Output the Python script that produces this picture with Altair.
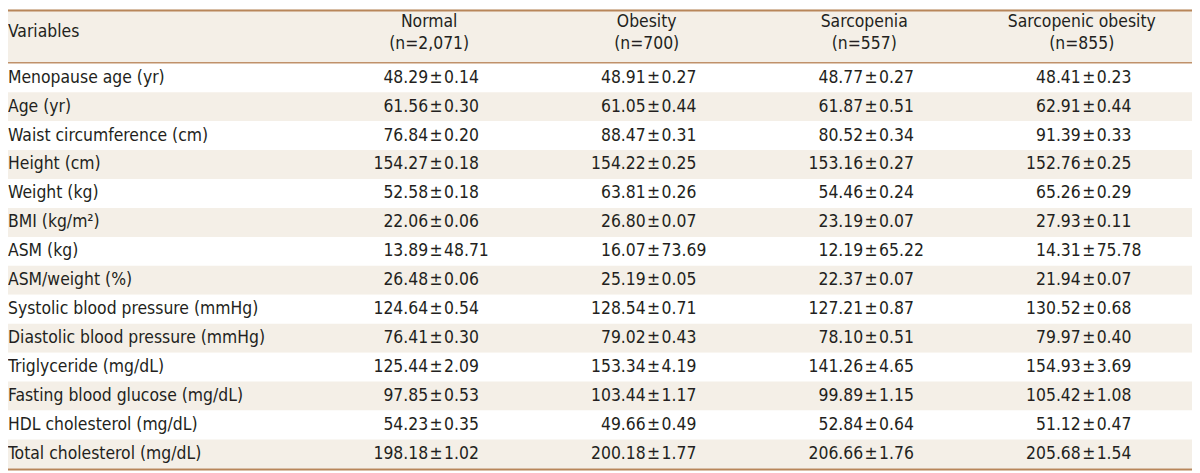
import altair as alt
import pandas as pd

variables = [
    "Menopause age (yr)", "Age (yr)", "Waist circumference (cm)", "Height (cm)",
    "Weight (kg)", "BMI (kg/m²)", "ASM (kg)", "ASM/weight (%)",
    "Systolic blood pressure (mmHg)", "Diastolic blood pressure (mmHg)",
    "Triglyceride (mg/dL)", "Fasting blood glucose (mg/dL)",
    "HDL cholesterol (mg/dL)", "Total cholesterol (mg/dL)",
]
groups = ["Normal", "Obesity", "Sarcopenia", "Sarcopenic obesity"]
group_n = ["(n=2,071)", "(n=700)", "(n=557)", "(n=855)"]

normal_mean = [48.29, 61.56, 76.84, 154.27, 52.58, 22.06, 13.89, 26.48, 124.64, 76.41, 125.44, 97.85, 54.23, 198.18]
normal_se = [0.14, 0.30, 0.20, 0.18, 0.18, 0.06, 48.71, 0.06, 0.54, 0.30, 2.09, 0.53, 0.35, 1.02]
obesity_mean = [48.91, 61.05, 88.47, 154.22, 63.81, 26.80, 16.07, 25.19, 128.54, 79.02, 153.34, 103.44, 49.66, 200.18]
obesity_se = [0.27, 0.44, 0.31, 0.25, 0.26, 0.07, 73.69, 0.05, 0.71, 0.43, 4.19, 1.17, 0.49, 1.77]
sarc_mean = [48.77, 61.87, 80.52, 153.16, 54.46, 23.19, 12.19, 22.37, 127.21, 78.10, 141.26, 99.89, 52.84, 206.66]
sarc_se = [0.27, 0.51, 0.34, 0.27, 0.24, 0.07, 65.22, 0.07, 0.87, 0.51, 4.65, 1.15, 0.64, 1.76]
so_mean = [48.41, 62.91, 91.39, 152.76, 65.26, 27.93, 14.31, 21.94, 130.52, 79.97, 154.93, 105.42, 51.12, 205.68]
so_se = [0.23, 0.44, 0.33, 0.25, 0.29, 0.11, 75.78, 0.07, 0.68, 0.40, 3.69, 1.08, 0.47, 1.54]

# ---- layout / style ----
W, H = 1192, 465
ROW_TOP, ROW_BOTTOM = 54, 462
FONT = "DejaVu Sans Condensed, Liberation Sans, Arial, sans-serif"
FS = 17.5
TXT = "#231f20"
BEIGE = "#f4efe7"
LINE = "#c0916a"
EDGE = "#b8865a"

means = [normal_mean, obesity_mean, sarc_mean, so_mean]
ses = [normal_se, obesity_se, sarc_se, so_se]

rows = pd.DataFrame({"var": variables, "stripe": [i % 2 for i in range(len(variables))]})
cells = []
for g, m, s in zip(groups, means, ses):
    for v, mv, sv in zip(variables, m, s):
        cells.append({"var": v, "group": g, "mean": f"{mv:.2f}", "se": f"{sv:.2f}"})
cells = pd.DataFrame(cells)
heads = pd.DataFrame({"group": groups, "n": group_n})
one = pd.DataFrame({"label": ["Variables"]})

yscale = alt.Scale(domain=variables, range=[ROW_TOP, ROW_BOTTOM], paddingInner=0, paddingOuter=0)
xscale = alt.Scale(domain=groups, range=[431, 1088], padding=0)
Y = alt.Y("var:N", scale=yscale, axis=None)
X = alt.X("group:N", scale=xscale, axis=None)

header_bg = alt.Chart(one).mark_rect(fill=BEIGE).encode(
    x=alt.value(0), x2=alt.value(W), y=alt.value(0), y2=alt.value(ROW_TOP))

stripes = alt.Chart(rows).mark_bar(size=29.15, orient="horizontal").encode(
    y=Y, x=alt.value(0), x2=alt.value(W),
    fill=alt.Fill("stripe:N", scale=alt.Scale(domain=[0, 1], range=["#ffffff", BEIGE]), legend=None),
)

top_line = alt.Chart(one).mark_rule(color=EDGE, strokeWidth=2).encode(
    x=alt.value(0), x2=alt.value(W), y=alt.value(1))
mid_line = alt.Chart(one).mark_rule(color=LINE, strokeWidth=1.5).encode(
    x=alt.value(0), x2=alt.value(W), y=alt.value(ROW_TOP - 0.5))
bot_line = alt.Chart(one).mark_rule(color=EDGE, strokeWidth=2).encode(
    x=alt.value(0), x2=alt.value(W), y=alt.value(ROW_BOTTOM + 1))

tbase = dict(font=FONT, fontSize=FS, color=TXT, baseline="middle")

var_head = alt.Chart(one).mark_text(align="left", **tbase).encode(
    x=alt.value(0), y=alt.value(23), text="label:N")
grp_head = alt.Chart(heads).mark_text(align="center", dx=-7, **tbase).encode(
    x=X, y=alt.value(13), text="group:N")
n_head = alt.Chart(heads).mark_text(align="center", dx=-7, **tbase).encode(
    x=X, y=alt.value(35), text="n:N")

var_text = alt.Chart(rows).mark_text(align="left", **tbase).encode(
    x=alt.value(0), y=Y, text="var:N")
mean_text = alt.Chart(cells).mark_text(align="right", dx=-8, **tbase).encode(
    x=X, y=Y, text="mean:N")
pm_text = alt.Chart(cells).mark_text(align="center", text="±", **tbase).encode(
    x=X, y=Y)
se_text = alt.Chart(cells).mark_text(align="left", dx=8, **tbase).encode(
    x=X, y=Y, text="se:N")

chart = alt.layer(
    header_bg, stripes, top_line, mid_line, bot_line,
    var_head, grp_head, n_head, var_text, mean_text, pm_text, se_text,
).properties(
    width=W, height=H, padding=0, autosize=alt.AutoSizeParams(type="none"),
    background="#ffffff",
).configure_view(stroke=None)

chart.save("out.html", embed_options={"renderer": "svg", "actions": False})
